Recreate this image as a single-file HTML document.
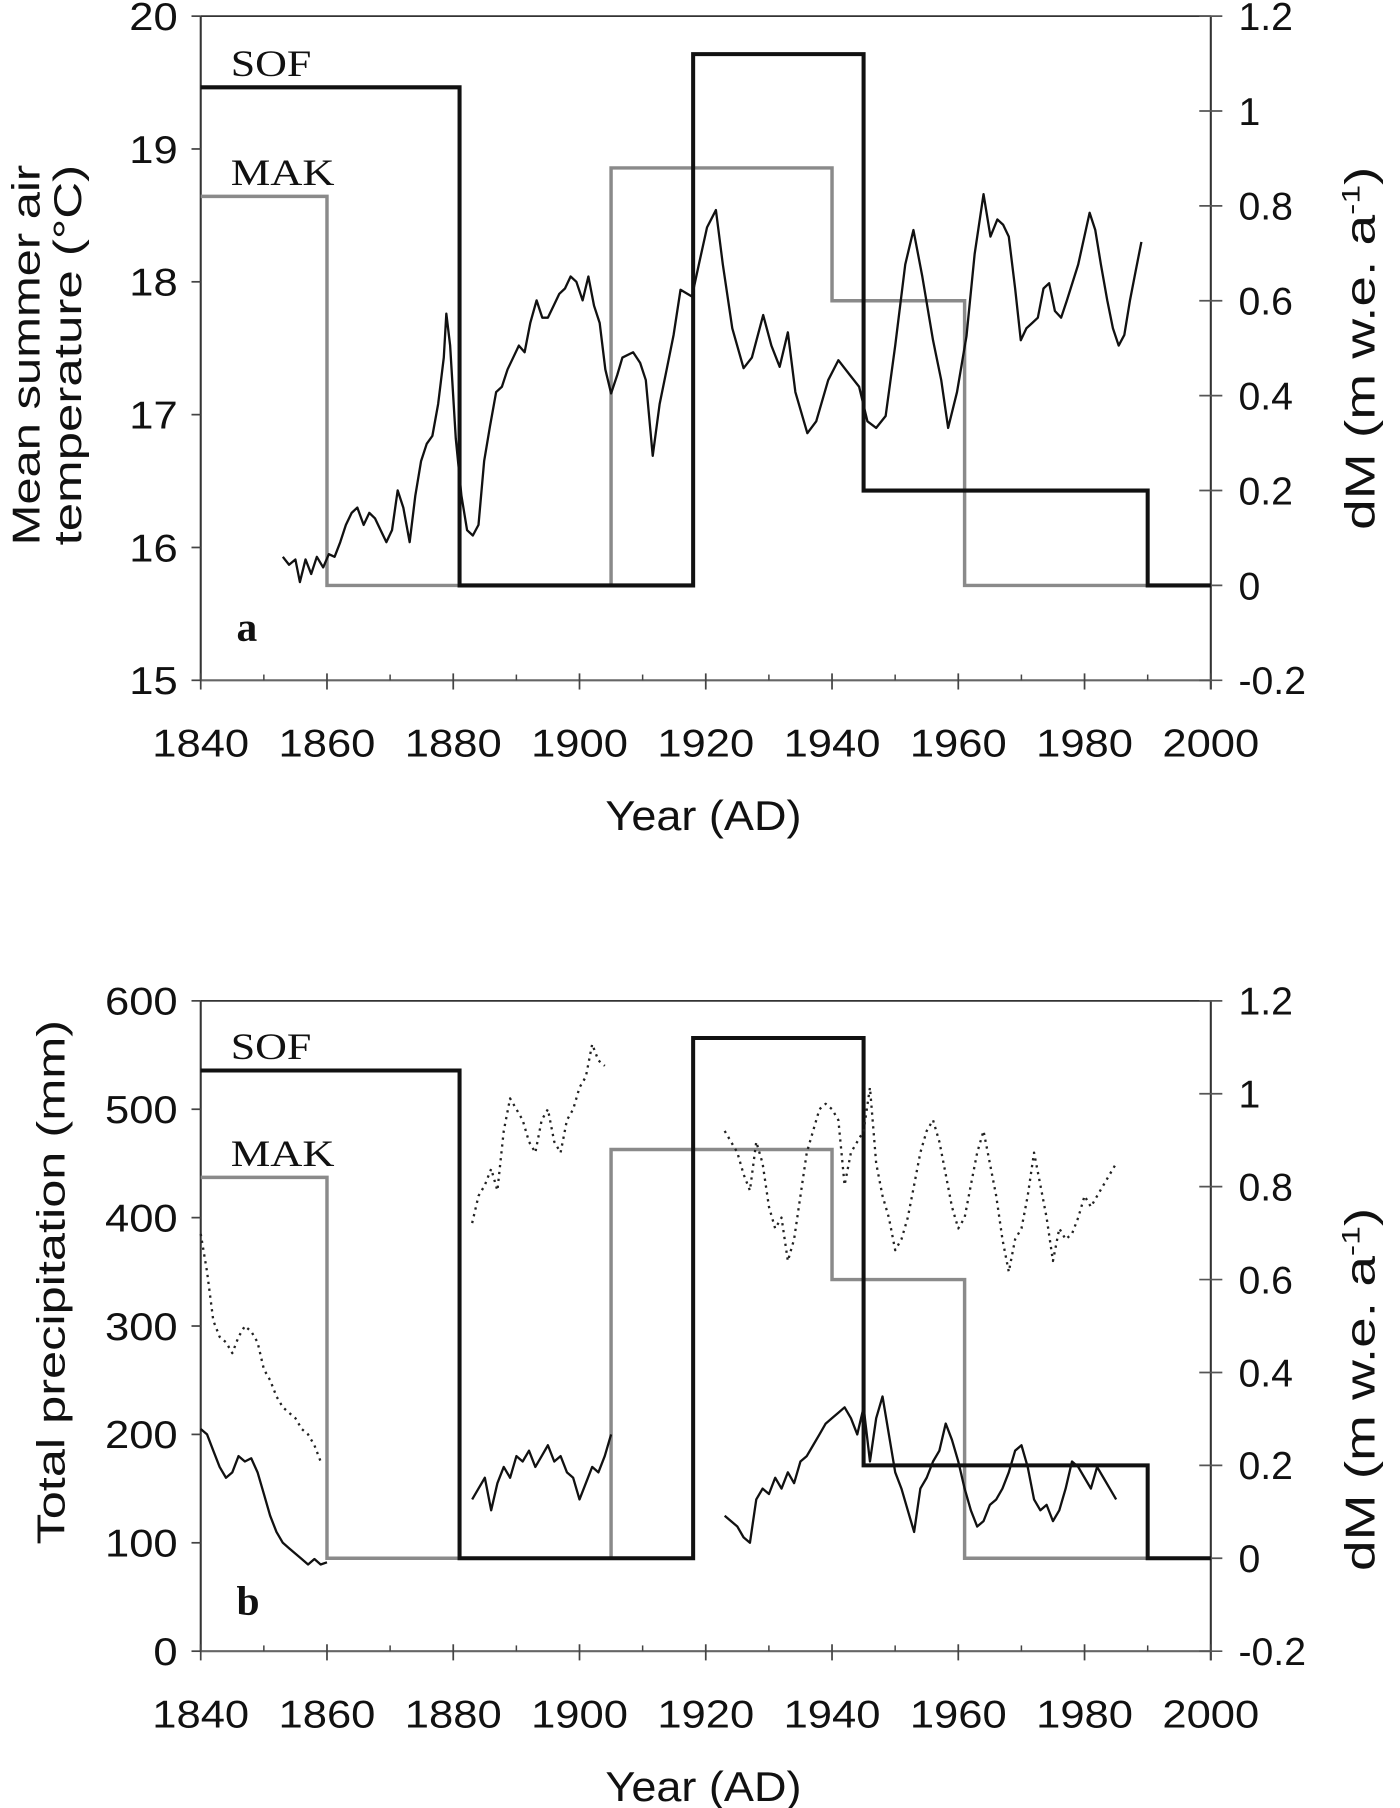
<!DOCTYPE html>
<html><head><meta charset="utf-8"><style>
html,body{margin:0;padding:0;background:#fff}
svg{display:block}
text{font-family:"Liberation Sans",Arial,sans-serif;fill:#111}
.serif{font-family:"Liberation Serif","Times New Roman",serif}
</style></head><body>
<svg id="fig" width="1400" height="1808" viewBox="0 0 1214 1568" xmlns="http://www.w3.org/2000/svg"></svg>
<script>
// ---- data ----
const tempYears=[1853,1854,1855,1855.7,1856.6,1857.5,1858.4,1859.4,1860.3,1861.2,1862.1,1863,1863.9,1864.8,1865.8,1866.7,1867.6,1868.5,1869.4,1870.3,1871.2,1872.1,1873.1,1874,1874.9,1875.8,1876.7,1877.6,1878.5,1878.9,1879.5,1880.4,1881.3,1882.2,1883.1,1884,1884.9,1885.8,1886.8,1887.7,1888.6,1889.5,1890.4,1891.3,1892.2,1893.2,1894.1,1895,1895.9,1896.8,1897.7,1898.6,1899.5,1900.5,1901.4,1902.3,1903.2,1904.1,1905,1906,1906.8,1908.5,1909.6,1910.5,1911.6,1912.7,1913.8,1914.9,1916,1917.8,1918.9,1920.2,1921.6,1922.7,1924.2,1926,1927.3,1929.1,1930.4,1931.7,1933,1934.2,1936.1,1937.5,1939.4,1941,1942.8,1944.3,1945.6,1947,1948.5,1950,1951.6,1952.9,1954.3,1956,1957.3,1958.4,1959.8,1961.3,1962.6,1964,1965.1,1966.2,1967.1,1968,1969,1969.9,1970.8,1971.7,1972.6,1973.5,1974.4,1975.3,1976.3,1977.2,1979,1980.8,1981.7,1982.6,1983.6,1984.5,1985.4,1986.3,1987.2,1988.1,1989];
const tempValues=[15.93,15.87,15.91,15.74,15.91,15.8,15.93,15.85,15.95,15.93,16.04,16.17,16.26,16.3,16.17,16.26,16.22,16.13,16.04,16.13,16.43,16.3,16.04,16.39,16.65,16.78,16.84,17.08,17.43,17.76,17.52,16.82,16.39,16.13,16.09,16.17,16.65,16.91,17.17,17.21,17.34,17.43,17.52,17.47,17.69,17.86,17.73,17.73,17.82,17.91,17.95,18.04,18.0,17.86,18.04,17.82,17.69,17.34,17.16,17.3,17.43,17.47,17.39,17.26,16.69,17.08,17.34,17.6,17.94,17.89,18.13,18.41,18.54,18.13,17.65,17.35,17.43,17.75,17.52,17.36,17.62,17.17,16.86,16.95,17.26,17.41,17.3,17.21,16.95,16.9,16.99,17.52,18.13,18.39,18.04,17.56,17.26,16.9,17.17,17.59,18.21,18.66,18.34,18.47,18.43,18.34,17.95,17.56,17.65,17.69,17.73,17.95,17.99,17.78,17.73,17.86,18.13,18.52,18.39,18.13,17.86,17.65,17.52,17.6,17.86,18.08,18.3];
const precipSolidYears=[[1840,1841,1842,1843,1844,1845,1846,1847,1848,1849,1850,1851,1852,1853,1854,1855,1856,1857,1858,1859,1860],
[1883,1884,1885,1886,1887,1888,1889,1890,1891,1892,1893,1894,1895,1896,1897,1898,1899,1900,1901,1902,1903,1904,1905],
[1923,1924,1925,1926,1927,1928,1929,1930,1931,1932,1933,1934,1935,1936,1937,1938,1939,1940,1941,1942,1943,1944,1945,1946,1947,1948,1949,1950,1951,1952,1953,1954,1955,1956,1957,1958,1959,1960,1961,1962,1963,1964,1965,1966,1967,1968,1969,1970,1971,1972,1973,1974,1975,1976,1977,1978,1979,1980,1981,1982,1983,1984,1985]];
const precipSolidValues=[[205,200,185,170,160,165,180,175,178,165,145,125,110,100,95,90,85,80,85,80,82],
[140,150,160,130,155,170,160,180,175,185,170,180,190,175,180,165,160,140,155,170,165,180,200],
[125,120,115,105,100,140,150,145,160,150,165,155,175,180,190,200,210,215,220,225,215,200,225,175,215,235,200,165,150,130,110,150,160,175,185,210,195,175,150,130,115,120,135,140,150,165,185,190,170,140,130,135,120,130,150,175,170,160,150,170,160,150,140]];
const precipDotYears=[[1840,1841,1842,1843,1844,1845,1846,1847,1848,1849,1850,1851,1852,1853,1854,1855,1856,1857,1858,1859],
[1883,1884,1885,1886,1887,1888,1889,1890,1891,1892,1893,1894,1895,1896,1897,1898,1899,1900,1901,1902,1903,1904],
[1923,1924,1925,1926,1927,1928,1929,1930,1931,1932,1933,1934,1935,1936,1937,1938,1939,1940,1941,1942,1943,1944,1945,1946,1947,1948,1949,1950,1951,1952,1953,1954,1955,1956,1957,1958,1959,1960,1961,1962,1963,1964,1965,1966,1967,1968,1969,1970,1971,1972,1973,1974,1975,1976,1977,1978,1979,1980,1981,1982,1983,1984,1985]];
const precipDotValues=[[385,350,305,290,285,275,290,300,295,285,260,250,235,225,220,215,205,200,190,175],
[395,420,430,445,425,480,510,500,490,470,460,490,500,470,460,490,500,520,530,560,545,540],
[480,470,460,440,425,470,450,410,390,400,360,380,420,460,480,500,505,500,490,430,460,470,480,520,450,420,400,370,380,400,430,460,480,490,470,440,410,390,400,430,460,480,450,420,380,350,380,390,420,460,430,400,360,390,380,385,400,420,410,420,430,440,450]];
const sofEdges=[1840,1881,1918,1945,1990,2000];
const sofValues=[1.05,0,1.12,0.2,0];
const makEdges=[1840,1860,1905,1940,1961,1990];
const makValues=[0.82,0,0.88,0.6,0];
const xTicks=[1840,1860,1880,1900,1920,1940,1960,1980,2000];
const tempTicks=[15,16,17,18,19,20];
const precipTicks=[0,100,200,300,400,500,600];
const dmTicks=[-0.2,0,0.2,0.4,0.6,0.8,1,1.2];

const NS="http://www.w3.org/2000/svg";
const svg=document.getElementById('fig');
function el(tag,attrs,parent,txt){const e=document.createElementNS(NS,tag);for(const k in attrs)e.setAttribute(k,attrs[k]);if(txt!==undefined)e.textContent=txt;(parent||svg).appendChild(e);return e;}

function panel(cfg){
  const g=el('g',{});
  
  
  const L=174,R=1050,T=cfg.top,B=cfg.bottom;
  const xs=y=>L+(y-1840)/160*(R-L);
  const yl=v=>B-(v-cfg.lmin)/(cfg.lmax-cfg.lmin)*(B-T);
  const yr=v=>B-(v+0.2)/1.4*(B-T);
  el('line',{x1:L,y1:T,x2:R,y2:T,stroke:'#333','stroke-width':1.5},g);
  const la=el('line',{x1:L,y1:T,x2:L,y2:B,stroke:'#333','stroke-width':1.8},g);
  
  const ra=el('line',{x1:R,y1:T,x2:R,y2:B+8,stroke:'#333','stroke-width':1.8},g);
  
  const xa=el('line',{x1:L,y1:B,x2:R,y2:B,stroke:'#666','stroke-width':1.8},g);
  
  xTicks.forEach(t=>{
    el('line',{x1:xs(t),y1:B-6,x2:xs(t),y2:B+8,stroke:'#444','stroke-width':1.5},g);
    const tx=el('text',{x:xs(t),y:B+66,'font-size':34,'text-anchor':'middle',textLength:84,lengthAdjust:'spacingAndGlyphs'},g,String(t));
    
    if(t<2000) el('line',{x1:xs(t+10),y1:B-5,x2:xs(t+10),y2:B,stroke:'#444','stroke-width':1.3},g);
  });
  cfg.lticks.forEach(t=>{
    el('line',{x1:L-8,y1:yl(t),x2:L,y2:yl(t),stroke:'#444','stroke-width':1.5},g);
    const s=String(t);
    const tx=el('text',{x:L-20,y:yl(t)+12,'font-size':34,'text-anchor':'end',textLength:s.length*21,lengthAdjust:'spacingAndGlyphs'},g,s);
    
  });
  dmTicks.forEach(t=>{
    el('line',{x1:R-10,y1:yr(t),x2:R+10,y2:yr(t),stroke:'#555','stroke-width':1.5},g);
    const tx=el('text',{x:R+24,y:yr(t)+12,'font-size':34},g,String(t));
    
  });
  function step(edges,vals,color,w,name){
    let d='';
    for(let i=0;i<vals.length;i++){
      d+=(i===0?'M':'L')+xs(edges[i])+','+yr(vals[i])+'L'+xs(edges[i+1])+','+yr(vals[i]);
    }
    const p=el('path',{d:d,fill:'none',stroke:color,'stroke-width':w},g);
    
  }
  step(makEdges,makValues,'#8a8a8a',3,'mak-step-line');
  step(sofEdges,sofValues,'#111',3.5,'sof-step-line');
  const s1=el('text',{x:200,y:yr(sofValues[0])-10,'font-size':32,class:'serif',textLength:70,lengthAdjust:'spacingAndGlyphs'},g,'SOF');
  
  const s2=el('text',{x:200,y:yr(makValues[0])-10,'font-size':32,class:'serif',textLength:90,lengthAdjust:'spacingAndGlyphs'},g,'MAK');
  
  cfg.series(g,xs,yl);
  const pl=el('text',{x:205,y:cfg.letterY,'font-size':36,'font-weight':'bold',class:'serif'},g,cfg.letter);
  
  const xt=el('text',{x:610,y:B+130,'font-size':36,'text-anchor':'middle',textLength:170,lengthAdjust:'spacingAndGlyphs'},g,'Year (AD)');
  
  const rt=el('text',{transform:`translate(1192,${cfg.rcy}) rotate(-90)`,'font-size':36,'text-anchor':'middle',textLength:315,lengthAdjust:'spacingAndGlyphs'},g);
  
  rt.appendChild(document.createTextNode('dM (m w.e. a'));
  el('tspan',{dy:-13,'font-size':22},rt,'-1');
  el('tspan',{dy:13},rt,')');
  cfg.ltitle(g);
}
function line(g,xs,yl,ys,vs,attrs,name){
  const d=ys.map((y,i)=>(i?'L':'M')+xs(y).toFixed(1)+','+yl(vs[i]).toFixed(1)).join('');
  const p=el('path',Object.assign({d:d,fill:'none','stroke-linejoin':'round'},attrs),g);
  
}
panel({name:'panel-a-temperature',top:14,bottom:590,lmin:15,lmax:20,lticks:tempTicks,letter:'a',letterY:556,rcy:302,
 series:(g,xs,yl)=>line(g,xs,yl,tempYears,tempValues,{stroke:'#111','stroke-width':2},'temperature-line'),
 ltitle:(g)=>{
  const t=el('text',{transform:`translate(34,308) rotate(-90)`,'font-size':34,'text-anchor':'middle',textLength:330,lengthAdjust:'spacingAndGlyphs'},g,'Mean summer air');
  
  const t2=el('text',{transform:`translate(70,308) rotate(-90)`,'font-size':34,'text-anchor':'middle',textLength:330,lengthAdjust:'spacingAndGlyphs'},g,'temperature (°C)');
  
 }});
panel({name:'panel-b-precipitation',top:868,bottom:1432,lmin:0,lmax:600,lticks:precipTicks,letter:'b',letterY:1400,rcy:1205,
 series:(g,xs,yl)=>{
  precipSolidYears.forEach((ys,i)=>line(g,xs,yl,ys,precipSolidValues[i],{stroke:'#111','stroke-width':2},'precip-solid-line'));
  precipDotYears.forEach((ys,i)=>line(g,xs,yl,ys,precipDotValues[i],{stroke:'#222','stroke-width':2,'stroke-dasharray':'2 4'},'precip-dotted-line'));
 },
 ltitle:(g)=>{
  const t=el('text',{transform:`translate(56,1112) rotate(-90)`,'font-size':34,'text-anchor':'middle',textLength:455,lengthAdjust:'spacingAndGlyphs'},g,'Total precipitation (mm)');
  
 }});
</script>
</body></html>
